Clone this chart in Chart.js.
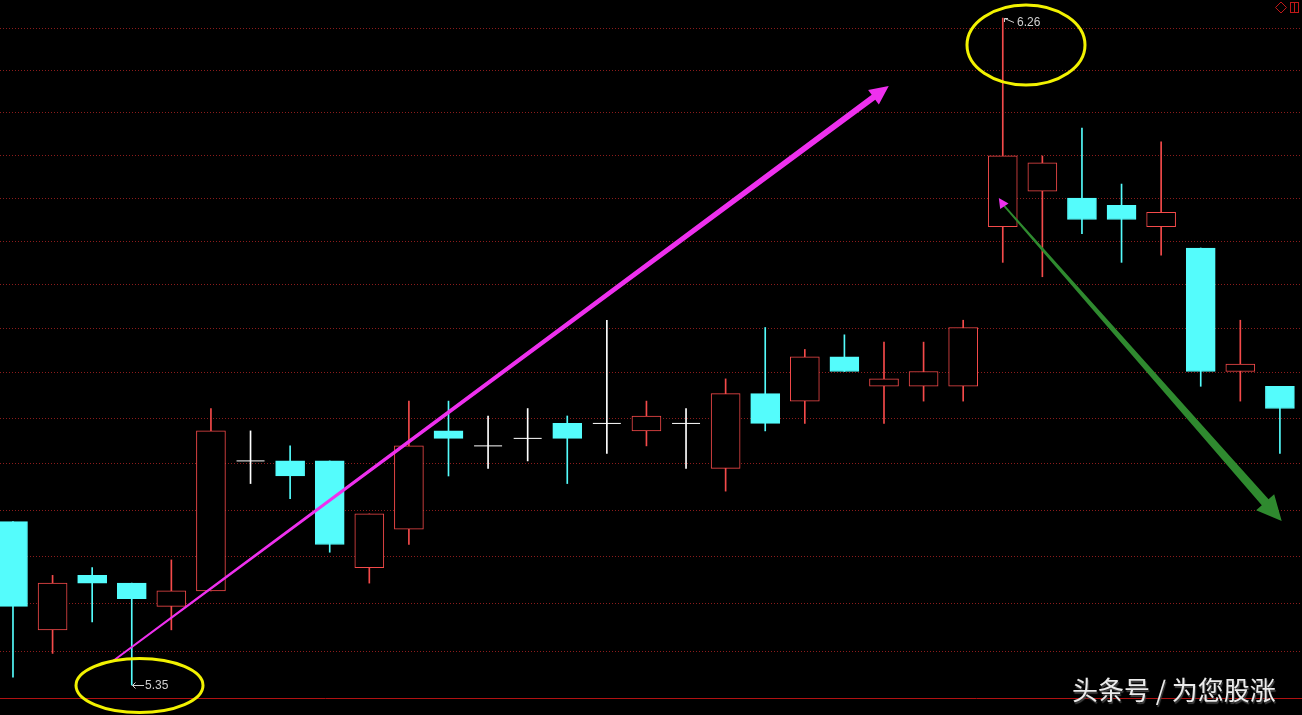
<!DOCTYPE html>
<html>
<head>
<meta charset="utf-8">
<script src="https://cdn.jsdelivr.net/npm/chart.js@4.4.1/dist/chart.umd.min.js"></script>
<style>
    html, body { margin: 0; padding: 0; background: #000; }
    #wrap { width: 1302px; height: 715px; position: relative; }
</style>
</head>
<body>
<div id="wrap"><canvas id="kline"></canvas></div>
<script>
// --- DATA (daily candles) ---
const opens  = [5.56, 5.42, 5.49, 5.48, 5.45, 5.47, 5.64, 5.64, 5.64, 5.50, 5.55, 5.68, 5.66, 5.67, 5.69, 5.69, 5.68, 5.69, 5.63, 5.73, 5.72, 5.78, 5.74, 5.74, 5.74, 5.96, 6.01, 6.00, 5.99, 5.96, 5.93, 5.76, 5.74];
const highs  = [5.56, 5.49, 5.50, 5.48, 5.51, 5.71, 5.68, 5.66, 5.64, 5.57, 5.72, 5.72, 5.70, 5.71, 5.70, 5.83, 5.72, 5.71, 5.75, 5.82, 5.79, 5.81, 5.80, 5.80, 5.83, 6.26, 6.06, 6.10, 6.02, 6.08, 5.93, 5.83, 5.74];
const lows   = [5.36, 5.39, 5.43, 5.35, 5.42, 5.47, 5.61, 5.59, 5.52, 5.48, 5.53, 5.62, 5.63, 5.64, 5.61, 5.65, 5.66, 5.63, 5.60, 5.68, 5.69, 5.76, 5.69, 5.72, 5.72, 5.91, 5.89, 5.95, 5.91, 5.92, 5.74, 5.72, 5.65];
const closes = [5.45, 5.48, 5.48, 5.46, 5.47, 5.68, 5.64, 5.62, 5.53, 5.57, 5.66, 5.67, 5.66, 5.67, 5.67, 5.69, 5.70, 5.69, 5.73, 5.69, 5.78, 5.76, 5.75, 5.76, 5.82, 6.06, 6.05, 5.97, 5.97, 5.98, 5.76, 5.77, 5.71];

// horizontal grid lines (price levels, no labels shown)
const gridPrices = [5.392, 5.454, 5.515, 5.575, 5.636, 5.697, 5.758, 5.818, 5.879, 5.939, 5.999, 6.061, 6.122, 6.183, 6.244];

// marked extremes
const highMark = { index: 25, text: '6.26' };
const lowMark  = { index: 3,  text: '5.35' };

// hand drawn arrows: [candle index, price]
const riseArrow = [[2.525, 5.3805], [22.12, 6.1607]];
const fallArrow = [[24.95, 5.9946], [32.045, 5.5607]];

const watermark = '头条号 / 为您股涨';

// --- COLOURS ---
const UP = '#f44a4a';
const DOWN = '#54fcfc';
const FLAT = '#ffffff';

const candleColor = i => closes[i] > opens[i] ? UP : (closes[i] < opens[i] ? DOWN : FLAT);
const idx = opens.map((_, i) => i);
const bodyIdx = idx.filter(i => opens[i] !== closes[i]);
const dojiIdx = idx.filter(i => opens[i] === closes[i]);

// --- DRAWING HELPERS ---
function taperedArrow(ctx, x0, y0, x1, y1, w0, w1, headLen, headHalf, color) {
    const dx = x1 - x0, dy = y1 - y0;
    const len = Math.hypot(dx, dy);
    const ux = dx / len, uy = dy / len;
    const nx = -uy, ny = ux;
    const bx = x1 - ux * headLen, by = y1 - uy * headLen;
    ctx.beginPath();
    ctx.moveTo(x0 + nx * w0 / 2, y0 + ny * w0 / 2);
    ctx.lineTo(bx + nx * w1 / 2, by + ny * w1 / 2);
    ctx.lineTo(bx + nx * headHalf, by + ny * headHalf);
    ctx.lineTo(x1, y1);
    ctx.lineTo(bx - nx * headHalf, by - ny * headHalf);
    ctx.lineTo(bx - nx * w1 / 2, by - ny * w1 / 2);
    ctx.lineTo(x0 - nx * w0 / 2, y0 - ny * w0 / 2);
    ctx.closePath();
    ctx.fillStyle = color;
    ctx.fill();
}

function smallHead(ctx, tipX, tipY, fromX, fromY, len, half, color) {
    const dx = tipX - fromX, dy = tipY - fromY;
    const l = Math.hypot(dx, dy);
    const ux = dx / l, uy = dy / l, nx = -uy, ny = ux;
    const bx = tipX - ux * len, by = tipY - uy * len;
    ctx.beginPath();
    ctx.moveTo(tipX, tipY);
    ctx.lineTo(bx + nx * half, by + ny * half);
    ctx.lineTo(bx - nx * half, by - ny * half);
    ctx.closePath();
    ctx.fillStyle = color;
    ctx.fill();
}

const overlayPlugin = {
    id: 'overlay',
    afterDatasetsDraw(chart) {
        const { ctx, chartArea, scales: { x, y } } = chart;
        const px = p => [x.getPixelForValue(p[0]), y.getPixelForValue(p[1])];
        ctx.save();

        // bottom frame line
        ctx.strokeStyle = '#b01212';
        ctx.lineWidth = 1;
        ctx.beginPath();
        ctx.moveTo(0, Math.round(chartArea.bottom) + 0.5);
        ctx.lineTo(chart.width, Math.round(chartArea.bottom) + 0.5);
        ctx.stroke();

        // rising magenta arrow
        const [r0x, r0y] = px(riseArrow[0]);
        const [r1x, r1y] = px(riseArrow[1]);
        taperedArrow(ctx, r0x, r0y, r1x, r1y, 1.8, 6, 19, 9, '#ee30ee');

        // falling green arrow with magenta tail tip
        const [f0x, f0y] = px(fallArrow[0]);
        const [f1x, f1y] = px(fallArrow[1]);
        taperedArrow(ctx, f0x, f0y, f1x, f1y, 1.8, 9, 25, 12, '#2f8a2f');
        smallHead(ctx, f0x - 2, f0y - 4, f0x + 6, f0y + 8, 10, 5, '#ee30ee');

        // price labels at the extremes
        ctx.font = '12px "Liberation Sans", Arial, sans-serif';
        ctx.textBaseline = 'middle';
        ctx.textAlign = 'left';
        ctx.strokeStyle = '#d0d0d0';
        ctx.fillStyle = '#d0d0d0';
        ctx.lineWidth = 1;

        const hx = Math.round(x.getPixelForValue(highMark.index));
        const hy = Math.round(y.getPixelForValue(highs[highMark.index]));
        ctx.beginPath();
        ctx.moveTo(hx + 1.5, hy + 0.5); ctx.lineTo(hx + 11, hy + 4.5);
        ctx.moveTo(hx + 1.5, hy + 0.5); ctx.lineTo(hx + 1.5, hy + 4);
        ctx.moveTo(hx + 1.5, hy + 0.5); ctx.lineTo(hx + 5, hy + 0.5);
        ctx.stroke();
        ctx.fillText(highMark.text, hx + 14, hy + 5);

        const lx = Math.round(x.getPixelForValue(lowMark.index));
        const ly = Math.round(y.getPixelForValue(lows[lowMark.index]));
        ctx.beginPath();
        ctx.moveTo(lx + 0.5, ly + 0.5); ctx.lineTo(lx + 12, ly + 0.5);
        ctx.moveTo(lx + 0.5, ly + 0.5); ctx.lineTo(lx + 3.5, ly - 2.5);
        ctx.moveTo(lx + 0.5, ly + 0.5); ctx.lineTo(lx + 3.5, ly + 3.5);
        ctx.stroke();
        ctx.fillText(lowMark.text, lx + 13, ly + 1);

        // yellow circles around the extremes
        ctx.strokeStyle = '#f2f200';
        ctx.lineWidth = 3;
        ctx.beginPath();
        ctx.ellipse(hx + 23, hy + 27, 59, 40, 0, 0, Math.PI * 2);
        ctx.stroke();
        ctx.beginPath();
        ctx.ellipse(lx + 7.5, ly + 0.5, 63.5, 27, 0, 0, Math.PI * 2);
        ctx.stroke();

        // top right tool icons
        ctx.strokeStyle = '#c01818';
        ctx.lineWidth = 1;
        ctx.beginPath();
        ctx.moveTo(1281, 2); ctx.lineTo(1286.5, 7.5); ctx.lineTo(1281, 13); ctx.lineTo(1275.5, 7.5); ctx.closePath();
        ctx.stroke();
        ctx.strokeRect(1290.5, 2.5, 8, 10);
        ctx.beginPath();
        ctx.moveTo(1294.5, 2.5); ctx.lineTo(1294.5, 12.5);
        ctx.stroke();

        // watermark
        ctx.font = '26px "Noto Sans CJK SC", sans-serif';
        ctx.textBaseline = 'alphabetic';
        ctx.shadowColor = 'rgba(70,70,70,0.95)';
        ctx.shadowOffsetX = 1;
        ctx.shadowOffsetY = 1.5;
        ctx.shadowBlur = 1;
        ctx.fillStyle = '#ececec';
        ctx.fillText(watermark, 1072, 700);

        ctx.restore();
    }
};

new Chart(document.getElementById('kline'), {
    type: 'bar',
    data: {
        datasets: [
            {
                type: 'line',
                label: 'Doji',
                data: dojiIdx.map(i => ({ x: i, y: closes[i] })),
                showLine: false,
                pointStyle: 'line',
                pointRadius: 14,
                pointHoverRadius: 14,
                pointBorderColor: FLAT,
                pointBorderWidth: 1,
                order: 1
            },
            {
                label: 'Body',
                data: bodyIdx.map(i => ({ x: i, y: [opens[i], closes[i]] })),
                backgroundColor: bodyIdx.map(i => candleColor(i) === UP ? '#000000' : DOWN),
                borderColor: bodyIdx.map(i => candleColor(i)),
                borderWidth: 1,
                borderSkipped: false,
                barThickness: 29,
                grouped: false,
                order: 2
            },
            {
                label: 'Wick',
                data: idx.map(i => ({ x: i, y: [lows[i], highs[i]] })),
                backgroundColor: idx.map(i => candleColor(i)),
                borderWidth: 0,
                barThickness: 1,
                grouped: false,
                order: 3
            }
        ]
    },
    options: {
        responsive: true,
        maintainAspectRatio: false,
        animation: false,
        layout: { autoPadding: false, padding: { left: 0, right: 0, top: 0, bottom: 17 } },
        plugins: { legend: { display: false }, tooltip: { enabled: false } },
        scales: {
            x: {
                type: 'linear',
                min: -0.328,
                max: 32.558,
                offset: false,
                display: false
            },
            y: {
                type: 'logarithmic',
                min: 5.3337,
                max: 6.2867,
                bounds: 'data',
                afterBuildTicks: scale => { scale.ticks = gridPrices.map(v => ({ value: v })); },
                ticks: { display: false },
                grid: { color: '#8c1c1c', lineWidth: 1, drawTicks: false },
                border: { display: false, dash: [1, 2] }
            }
        }
    },
    plugins: [overlayPlugin]
});
</script>
</body>
</html>
